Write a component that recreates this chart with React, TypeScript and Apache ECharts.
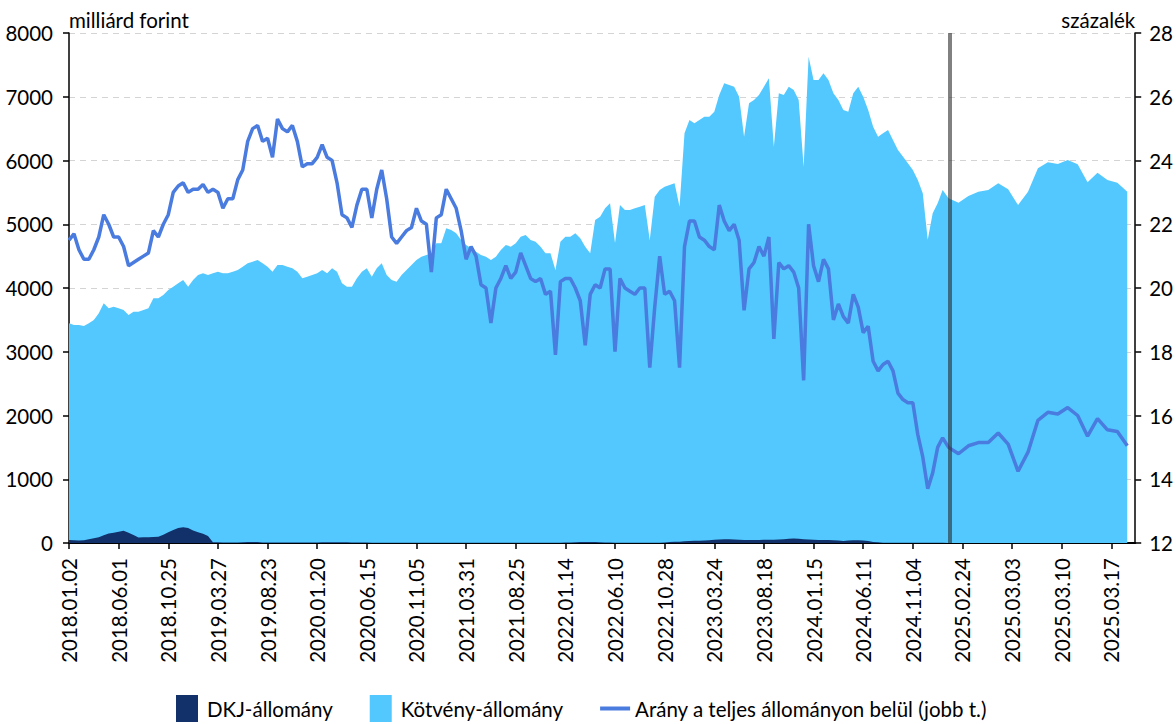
import React, { useEffect, useRef } from "react";
import * as echarts from "echarts";

const tickLabels = [
  "2018.01.02", "2018.06.01", "2018.10.25", "2019.03.27", "2019.08.23", "2020.01.20",
  "2020.06.15", "2020.11.05", "2021.03.31", "2021.08.25", "2022.01.14", "2022.06.10",
  "2022.10.28", "2023.03.24", "2023.08.18", "2024.01.15", "2024.06.11", "2024.11.04",
  "2025.02.24", "2025.03.03", "2025.03.10", "2025.03.17",
];

// daily history (10 samples per label interval), milliárd forint
const dkjHistory = [
  47, 45, 38, 45, 60, 75, 90, 120, 150, 160,
  175, 193, 160, 125, 85, 90, 92, 95, 100, 130,
  170, 205, 235, 248, 235, 195, 170, 145, 110, 12,
  10, 8, 8, 8, 8, 10, 15, 15, 14, 8,
  6, 6, 6, 6, 6, 6, 6, 6, 6, 6,
  8, 10, 12, 12, 12, 12, 10, 8, 6, 6,
  6, 5, 5, 5, 5, 5, 5, 5, 5, 5,
  5, 5, 5, 5, 5, 5, 5, 5, 5, 5,
  5, 5, 5, 5, 5, 5, 5, 5, 5, 5,
  5, 5, 5, 5, 5, 5, 5, 5, 5, 5,
  6, 8, 12, 14, 15, 15, 14, 12, 8, 6,
  5, 5, 4, 4, 4, 4, 4, 4, 4, 5,
  6, 15, 20, 18, 28, 32, 34, 36, 40, 45,
  50, 55, 58, 60, 55, 50, 48, 46, 46, 48,
  50, 50, 52, 56, 60, 66, 70, 66, 60, 55,
  50, 48, 48, 46, 45, 40, 30, 38, 44, 45,
  40, 30, 15, 10, 5, 4, 3, 3, 3, 3,
  3, 3, 3, 2, 2, 2, 2,
];

const kotvenyHistory = [
  3446, 3420, 3420, 3405, 3446, 3498, 3603, 3760, 3681, 3707,
  3681, 3655, 3577, 3629, 3629, 3655, 3681, 3838, 3838, 3890,
  3969, 4021, 4073, 4125, 4021, 4125, 4204, 4230, 4204, 4230,
  4256, 4230, 4230, 4256, 4282, 4335, 4387, 4413, 4440, 4387,
  4335, 4256, 4361, 4361, 4335, 4308, 4256, 4152, 4178, 4204,
  4230, 4282, 4230, 4308, 4256, 4073, 4021, 4021, 4152, 4256,
  4308, 4178, 4308, 4387, 4204, 4125, 4099, 4204, 4282, 4361,
  4440, 4492, 4518, 4544, 4701, 4701, 4936, 4910, 4858, 4753,
  4675, 4622, 4570, 4518, 4492, 4440, 4492, 4596, 4675, 4649,
  4701, 4805, 4831, 4753, 4727, 4649, 4544, 4544, 4282, 4727,
  4805, 4805, 4858, 4780, 4648, 4544, 5067, 5119, 5250, 5328,
  4706, 5302, 5223, 5223, 5250, 5276, 5302, 4753, 5433, 5537,
  5590, 5616, 5642, 5276, 6426, 6635, 6583, 6635, 6688, 6688,
  6766, 7027, 7210, 7184, 7158, 7001, 6373, 6897, 6949, 7027,
  7158, 7289, 6217, 7053, 7027, 7158, 7106, 6949, 5903, 7629,
  7262, 7262, 7367, 7262, 7053, 6949, 6792, 6766, 7053, 7158,
  7001, 6792, 6531, 6374, 6426, 6478, 6322, 6165, 6061, 5956,
  5851, 5694, 5485, 4758, 5171, 5328, 5537,
];

// százalék
const aranyHistory = [
  21.5, 21.7, 21.2, 20.9, 20.9, 21.2, 21.6, 22.3, 22.0, 21.6,
  21.6, 21.3, 20.7, 20.8, 20.9, 21.0, 21.1, 21.8, 21.6, 22.0,
  22.3, 23.0, 23.2, 23.3, 23.0, 23.1, 23.1, 23.25, 23.0, 23.1,
  23.0, 22.5, 22.8, 22.8, 23.4, 23.7, 24.6, 25.0, 25.1, 24.6,
  24.7, 24.1, 25.3, 25.0, 24.9, 25.1, 24.6, 23.8, 23.9, 23.9,
  24.1, 24.5, 24.1, 24.0, 23.3, 22.3, 22.2, 21.9, 22.6, 23.1,
  23.1, 22.2, 23.1, 23.7, 22.8, 21.6, 21.4, 21.6, 21.8, 21.9,
  22.5, 22.1, 22.0, 20.5, 22.2, 22.3, 23.1, 22.8, 22.5, 21.8,
  20.9, 21.3, 21.0, 20.1, 20.0, 18.9, 20.0, 20.3, 20.7, 20.3,
  20.5, 21.1, 20.7, 20.3, 20.2, 20.3, 19.8, 19.9, 17.9, 20.2,
  20.3, 20.3, 20.0, 19.6, 18.2, 19.8, 20.1, 20.0, 20.6, 20.6,
  18.0, 20.3, 20.0, 19.9, 19.8, 20.0, 20.0, 17.5, 19.4, 21.0,
  19.8, 19.9, 19.6, 17.5, 21.3, 22.1, 22.1, 21.6, 21.5, 21.3,
  21.2, 22.6, 22.1, 21.8, 22.0, 21.5, 19.3, 20.6, 20.8, 21.3,
  21.0, 21.6, 18.4, 20.8, 20.6, 20.7, 20.5, 20.0, 17.1, 22.0,
  20.7, 20.2, 20.9, 20.6, 19.0, 19.5, 19.1, 18.9, 19.8, 19.4,
  18.6, 18.8, 17.7, 17.4, 17.6, 17.7, 17.4, 16.7, 16.5, 16.4,
  16.4, 15.4, 14.7, 13.7, 14.2, 15.0, 15.3,
];

// recent trading days (5 per label interval)
const dkjRecent = [0, 0, 0, 0, 0, 0, 0, 0, 0, 0, 0, 0, 0, 0, 0, 0, 0, 0, 0];
const kotvenyRecent = [
  5407, 5339, 5443, 5511, 5537, 5642, 5548, 5302, 5511, 5877,
  5971, 5945, 6008, 5940, 5658, 5809, 5694, 5652, 5511,
];
const aranyRecent = [
  15.0, 14.8, 15.05, 15.15, 15.15, 15.45, 15.1, 14.25, 14.85, 15.85,
  16.1, 16.05, 16.25, 16.0, 15.35, 15.9, 15.55, 15.5, 15.05,
];

const HISTORY_STEP = 0.1; // label intervals per history sample
const RECENT_START = 17.72; // first recent trading day, in label intervals
const RECENT_STEP = 0.2;
const CUTOFF = 17.74;
const AXIS_MAX = 21.48;

const joinSeries = (hist: number[], recent: number[]) => [
  ...hist.map((v, k) => [k * HISTORY_STEP, v]),
  ...recent.map((v, j) => [RECENT_START + j * RECENT_STEP, v]),
];

const NAMES = ["DKJ-állomány", "Kötvény-állomány", "Arány a teljes állományon belül (jobb t.)"];
const COLORS = ["#12316A", "#52C8FF", "#4A7BDF"];
const FONT = "Lato, 'Noto Sans', sans-serif";
const FS = 20.5;

export default function App() {
  const ref = useRef<HTMLDivElement>(null);
  useEffect(() => {
    if (!ref.current) return;
    const chart = echarts.init(ref.current, undefined, { renderer: "svg" });
    const tickIdx = tickLabels.map((_, i) => i);
    const plain = (v: number) => String(v);
    chart.setOption({
      animation: false,
      textStyle: { fontFamily: FONT, color: "#000" },
      grid: { left: 69, right: 39, top: 33, bottom: 181 },
      legend: {
        left: 176,
        top: 695,
        padding: 0,
        itemWidth: 30,
        itemHeight: 27,
        itemGap: 37,
        textStyle: { fontSize: FS, color: "#000", fontFamily: FONT },
        data: [
          { name: NAMES[0], icon: "path://M0 0h22v27h-22z" },
          { name: NAMES[1], icon: "path://M0 0h22v27h-22z" },
          { name: NAMES[2], icon: "path://M0 0h30v4h-30z" },
        ],
      },
      xAxis: {
        type: "value",
        min: 0,
        max: AXIS_MAX,
        interval: 1,
        axisLine: { onZero: false, lineStyle: { color: "#000", width: 2 } },
        axisTick: { customValues: tickIdx, length: 6, lineStyle: { color: "#000", width: 1.5 } },
        axisLabel: {
          customValues: tickIdx,
          rotate: 90,
          margin: 15,
          fontSize: FS,
          color: "#000",
          fontFamily: FONT,
          formatter: (v: number) => tickLabels[Math.round(v)] ?? "",
        },
        splitLine: { show: false },
      },
      yAxis: [
        {
          type: "value",
          min: 0,
          max: 8000,
          interval: 1000,
          name: "milliárd forint",
          nameLocation: "end",
          nameGap: 13,
          nameTextStyle: { align: "left", verticalAlign: "middle", fontSize: FS, color: "#000", fontFamily: FONT },
          axisLine: { show: true, lineStyle: { color: "#000", width: 1.5 } },
          axisTick: { show: true, length: 6, lineStyle: { color: "#000", width: 1.5 } },
          axisLabel: { margin: 16, fontSize: FS, color: "#000", fontFamily: FONT, formatter: plain },
          splitLine: { show: true, lineStyle: { color: "#d4d4d4", type: [6, 5], width: 1 } },
        },
        {
          type: "value",
          min: 12,
          max: 28,
          interval: 2,
          position: "right",
          name: "százalék",
          nameLocation: "end",
          nameGap: 13,
          nameTextStyle: { align: "right", verticalAlign: "middle", fontSize: FS, color: "#000", fontFamily: FONT },
          axisLine: { show: true, lineStyle: { color: "#000", width: 1.5 } },
          axisTick: { show: true, length: 6, lineStyle: { color: "#000", width: 1.5 } },
          axisLabel: { margin: 14, fontSize: FS, color: "#000", fontFamily: FONT, formatter: plain },
          splitLine: { show: false },
        },
      ],
      series: [
        {
          name: NAMES[0],
          type: "line",
          z: 3,
          symbol: "none",
          itemStyle: { color: COLORS[0] },
          lineStyle: { width: 0, color: COLORS[0] },
          areaStyle: { color: COLORS[0], opacity: 1 },
          emphasis: { disabled: true },
          data: joinSeries(dkjHistory, dkjRecent),
        },
        {
          name: NAMES[1],
          type: "line",
          z: 2,
          symbol: "none",
          itemStyle: { color: COLORS[1] },
          lineStyle: { width: 0, color: COLORS[1] },
          areaStyle: { color: COLORS[1], opacity: 1 },
          emphasis: { disabled: true },
          data: joinSeries(kotvenyHistory, kotvenyRecent),
        },
        {
          name: NAMES[2],
          type: "line",
          yAxisIndex: 1,
          z: 4,
          symbol: "none",
          itemStyle: { color: COLORS[2] },
          lineStyle: { width: 3.5, color: COLORS[2] },
          emphasis: { disabled: true },
          data: joinSeries(aranyHistory, aranyRecent),
          markLine: {
            silent: true,
            symbol: ["none", "none"],
            label: { show: false },
            lineStyle: { color: "rgba(45,45,45,0.6)", width: 4, type: "solid" },
            data: [{ xAxis: CUTOFF }],
          },
        },
      ],
    });
    return () => chart.dispose();
  }, []);
  return (
    <div
      ref={ref}
      style={{ position: "fixed", left: 0, top: 0, width: 1176, height: 724, background: "#fff" }}
    />
  );
}
